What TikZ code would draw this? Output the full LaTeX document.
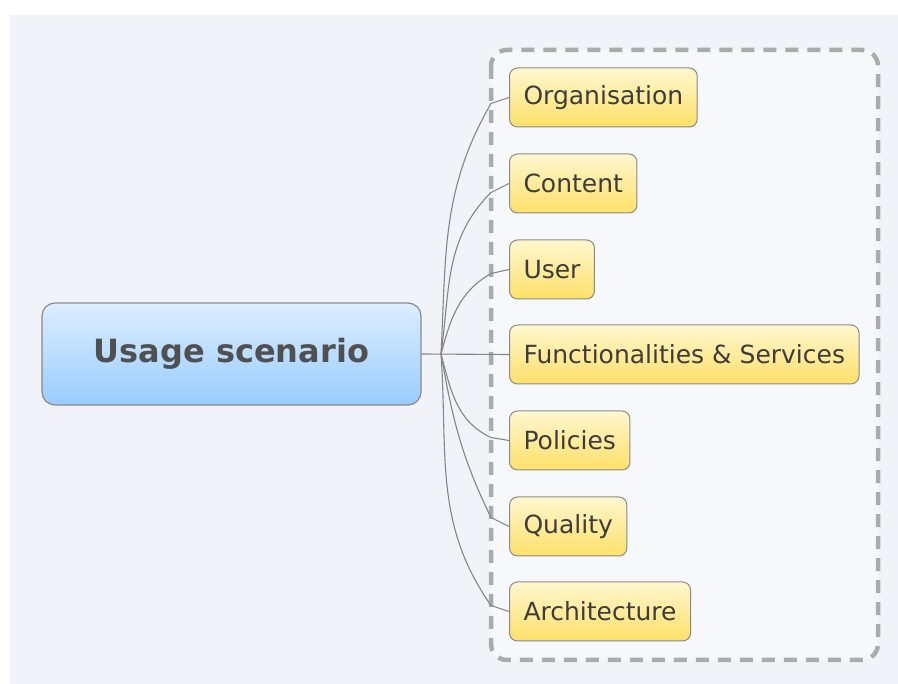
\documentclass[tikz,border=0pt]{standalone}
\usepackage{fontspec}
\setmainfont{DejaVu Sans}
\usepackage{tikz}

\definecolor{canvas}{HTML}{F2F3F8}
\definecolor{boundary}{HTML}{F7F8FB}
\definecolor{dashgray}{HTML}{ABABAB}
\definecolor{edgegray}{HTML}{858585}
\definecolor{rimgray}{HTML}{8A8A8A}
\definecolor{roottop}{HTML}{DDEEFF}
\definecolor{rootbot}{HTML}{99CCFF}
\definecolor{kidtop}{HTML}{FFF7CF}
\definecolor{kidbot}{HTML}{FFE068}
\definecolor{inkgray}{HTML}{3C3C3C}

\tikzset{
  central/.style={draw=rimgray, line width=1.2pt, rounded corners=13pt,
    top color=roottop, bottom color=rootbot,
    minimum width=379pt, minimum height=102pt,
    font=\fontsize{32}{32}\selectfont\bfseries, text=inkgray!90},
  topic/.style={draw=rimgray, line width=1pt, rounded corners=8pt,
    top color=kidtop, bottom color=kidbot, anchor=west,
    minimum height=59pt, inner xsep=14pt,
    font=\fontsize{25}{25}\selectfont, text=inkgray},
  branch/.style={draw=edgegray, line width=1.1pt},
}

\begin{document}
\begin{tikzpicture}[x=1pt, y=-1pt]
  \useasboundingbox (0,0) rectangle (898,684);
  \fill[white] (0,0) rectangle (898,684);
  \fill[canvas] (10,15) rectangle (898,684);

  % boundary round the sub topics
  \draw[dashgray, fill=boundary, line width=4.5pt, dash pattern=on 13pt off 9pt,
    rounded corners=16pt] (491,50) rectangle (878,660);

  % central topic
  \node[central] (root) at (231.5,354) {Usage scenario};

  % sub topics
  \node[topic] (org) at (509,97.5) {Organisation};
  \node[topic] (content) at (509,183.5) {Content};
  \node[topic] (user) at (509,269.5) {User};
  \node[topic] (func) at (509,354.5) {Functionalities \& Services};
  \node[topic] (policies) at (509,440.5) {Policies};
  \node[topic] (quality) at (509,526.5) {Quality};
  \node[topic] (arch) at (509,611.5) {Architecture};

  % branches
  \coordinate (hub) at (441,354);
  \draw[branch] (root.east) -- (func.west);
  \foreach \kid/\dy/\a/\b in {org/-6/87/240, content/-9/82/225, user/-4/75/210,
      policies/3/-75/155, quality/9/-80/116, arch/6/-86/125}
    \draw[branch] (hub) to[out=\a, in=\b] ([shift={(-18pt,\dy pt)}]\kid.west)
      -- (\kid.west);
\end{tikzpicture}
\end{document}
